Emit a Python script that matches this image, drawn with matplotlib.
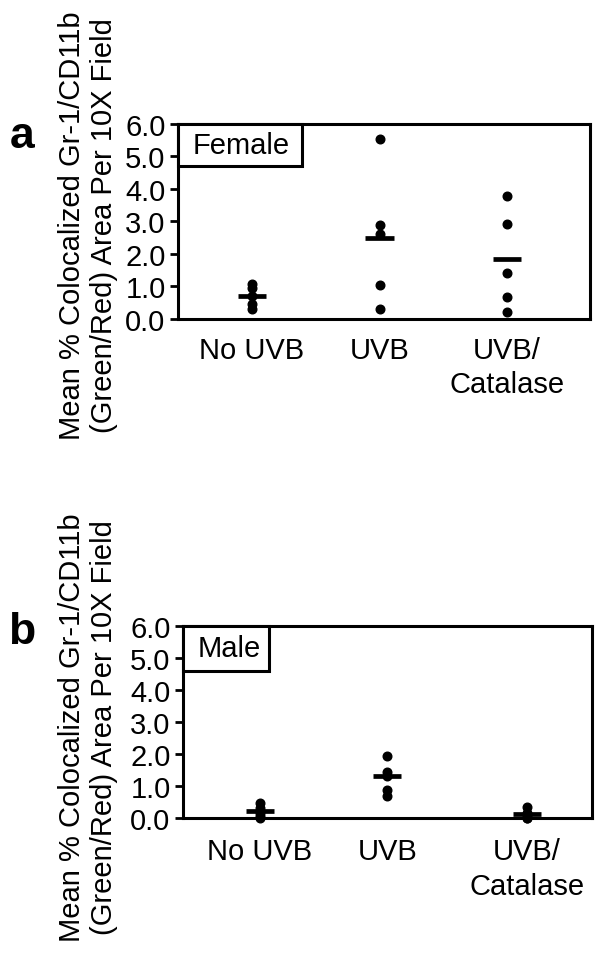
import matplotlib

matplotlib.use('Agg')
import matplotlib.pyplot as plt
from matplotlib.patches import Rectangle

plt.rcParams['font.family'] = ['Liberation Sans', 'DejaVu Sans']

# Datos
grupos = ["No UVB", "UVB", "UVB/\nCatalase"]
etiquetas_y = [0, 1, 2, 3, 4, 5, 6]

# Panel a (hembras)
female_no_uvb = [1.08, 0.95, 0.72, 0.45, 0.30]
female_uvb = [5.54, 2.90, 2.60, 1.03, 0.30]
female_catalasa = [3.79, 2.92, 1.41, 0.69, 0.21]
female_medias = [0.72, 2.50, 1.83]

# Panel b (machos)
male_no_uvb = [0.47, 0.30, 0.15, 0.05, 0.0]
male_uvb = [1.95, 1.45, 1.30, 0.88, 0.68]
male_catalasa = [0.33, 0.15, 0.05, 0.0, 0.0]
male_medias = [0.21, 1.30, 0.14]

ylabel = "Mean % Colocalized Gr-1/CD11b\n(Green/Red) Area Per 10X Field"


def panel(ax, series, medias, posiciones, nombre, caja, pad_x):
    for x, vals in zip(posiciones, series):
        ax.plot([x] * len(vals), vals, 'o', color='black', markersize=6.2, clip_on=False, zorder=3)
    for x, m in zip(posiciones, medias):
        ax.plot([x - 0.11, x + 0.11], [m, m], color='black', linewidth=3.4, solid_capstyle='butt', zorder=4)

    ax.set_ylim(0, 6)
    ax.set_yticks(etiquetas_y)
    ax.set_yticklabels([f"{v:.1f}" for v in etiquetas_y])
    ax.set_xticks(posiciones)
    ax.set_xticklabels(grupos, linespacing=1.3)
    ax.tick_params(axis='x', length=0, pad=pad_x, labelsize=21)
    ax.tick_params(axis='y', length=6, width=2, pad=3, labelsize=21, direction='out')
    for s in ax.spines.values():
        s.set_linewidth(2.2)

    # caja de la leyenda
    ax.add_patch(Rectangle((0, 1 - caja[1]), caja[0], caja[1], transform=ax.transAxes,
                           facecolor='white', edgecolor='black', linewidth=2.2, zorder=5, clip_on=False))
    ax.text(0.035, 1 - caja[1] / 2, nombre, transform=ax.transAxes, ha='left', va='center',
            fontsize=21, zorder=6)


fig = plt.figure(figsize=(6.02, 9.54), dpi=100)

ax_a = fig.add_axes([0.2957, 0.6646, 0.6843, 0.2044])
panel(ax_a, [female_no_uvb, female_uvb, female_catalasa], female_medias, [1, 2, 3],
      "Female", (0.30, 0.215), 12)
ax_a.set_xlim(0.42, 3.65)

ax_b = fig.add_axes([0.304, 0.1415, 0.679, 0.2013])
panel(ax_b, [male_no_uvb, male_uvb, male_catalasa], male_medias, [1, 2, 3.09],
      "Male", (0.21, 0.234), 14)
ax_b.set_xlim(0.4, 3.6)

fig.text(88 / 602, 1 - 226 / 954, ylabel, rotation=90, ha='center', va='center',
         multialignment='center', fontsize=21, linespacing=1.15)
fig.text(88 / 602, 1 - 728 / 954, ylabel, rotation=90, ha='center', va='center',
         multialignment='center', fontsize=21, linespacing=1.15)

fig.text(22 / 602, 1 - 137 / 954, "a", fontsize=32, fontweight='bold', ha='center', va='center')
fig.text(22 / 602, 1 - 633 / 954, "b", fontsize=32, fontweight='bold', ha='center', va='center')

plt.savefig("out.png", dpi=100)
plt.close()
